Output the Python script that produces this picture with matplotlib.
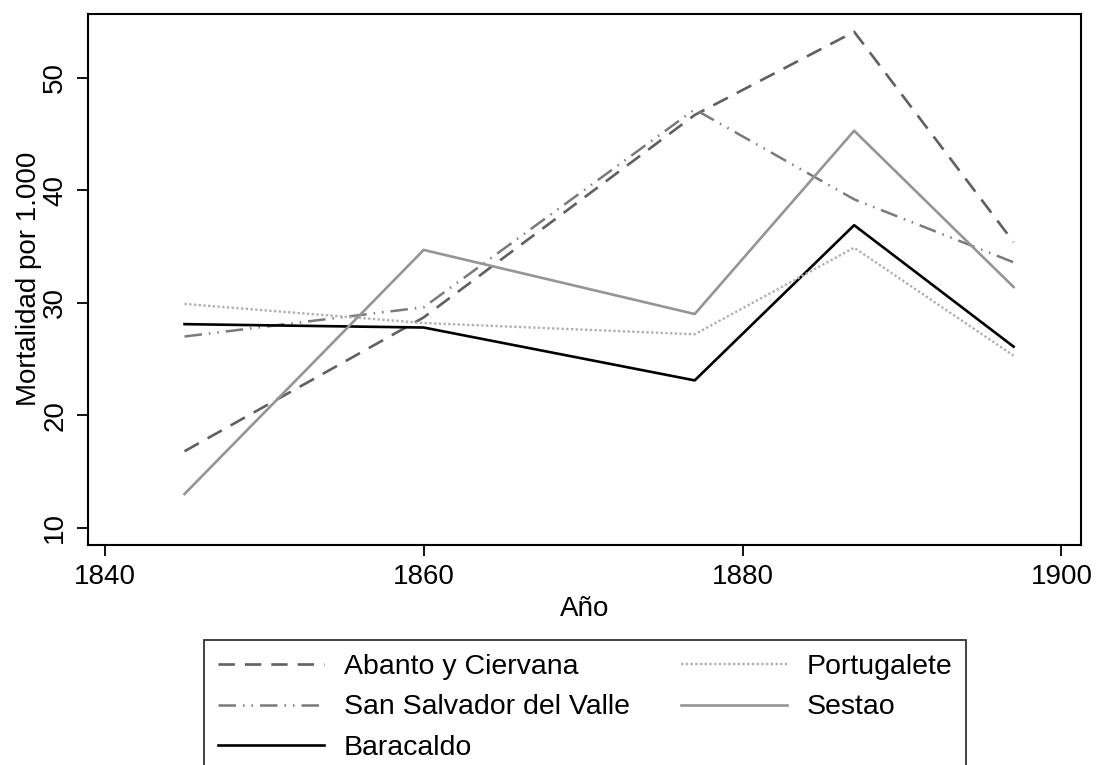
import matplotlib
matplotlib.use("Agg")
import matplotlib.pyplot as plt

plt.rcParams['font.family'] = ['Liberation Sans', 'DejaVu Sans']

# Datos
anios = [1845, 1860, 1877, 1887, 1897]
abanto = [16.8, 28.7, 46.7, 54.1, 35.4]
san_salvador = [27.0, 29.6, 47.2, 39.2, 33.6]
baracaldo = [28.1, 27.8, 23.1, 36.9, 26.1]
portugalete = [29.9, 28.2, 27.2, 34.9, 25.3]
sestao = [13.0, 34.7, 29.0, 45.3, 31.4]

x_ticks = [1840, 1860, 1880, 1900]
y_ticks = [10, 20, 30, 40, 50]


def graph_build():
    fig = plt.figure(figsize=(10.97, 7.65), dpi=100)
    ax = fig.add_axes([0.080, 0.288, 0.905, 0.694])

    # orden para que la leyenda quede en dos columnas como en el original
    ax.plot(anios, abanto, color="#606060", linewidth=1.9, linestyle=(0, (6.2, 3.8)),
            label="Abanto y Ciervana")
    ax.plot(anios, san_salvador, color="#7a7a7a", linewidth=1.8,
            linestyle=(0, (7, 2.8, 0.6, 2.8, 0.6, 2.8)), label="San Salvador del Valle")
    ax.plot(anios, baracaldo, color="black", linewidth=1.9, label="Baracaldo")
    ax.plot(anios, portugalete, color="#b0b0b0", linewidth=1.7, linestyle=(0, (1, 1)),
            label="Portugalete")
    ax.plot(anios, sestao, color="#959595", linewidth=1.9, label="Sestao")

    ax.set_xlim(1838.93, 1901.2)
    ax.set_ylim(8.49, 55.7)
    ax.set_xticks(x_ticks)
    ax.set_yticks(y_ticks)
    ax.tick_params(axis="both", labelsize=20, length=8, width=1.3, pad=6)
    for lbl in ax.get_yticklabels():
        lbl.set_rotation(90)
        lbl.set_va("center")
    for s in ax.spines.values():
        s.set_linewidth(1.5)

    ax.set_xlabel("Año", fontsize=20, labelpad=4)
    ax.set_ylabel("Mortalidad por 1.000", fontsize=20, labelpad=0.5)

    leg = fig.legend(loc="upper left", bbox_to_anchor=(0.186, -0.03, 0.695, 0.1934),
                     mode="expand", ncol=2, fontsize=20.5, frameon=True, fancybox=False,
                     edgecolor="black", handlelength=3.7, handletextpad=0.7,
                     columnspacing=2.0, borderpad=0.5, labelspacing=0.5,
                     borderaxespad=0)
    leg.get_frame().set_linewidth(1.3)

    fig.savefig("out.png", dpi=100)


def main():
    graph_build()


if __name__ == "__main__":
    main()
